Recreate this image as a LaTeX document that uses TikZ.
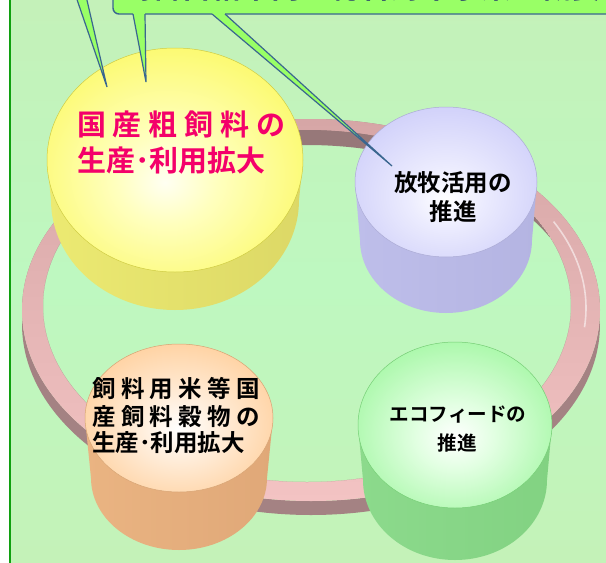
\documentclass[tikz,border=0pt]{standalone}
\usepackage{fontspec}
\newfontfamily\jp{Noto Sans CJK JP}[BoldFont={* Bold}]
\definecolor{bgA}{HTML}{C4F1B9}
\definecolor{bgB}{HTML}{BEF8C0}
\definecolor{bgC}{HTML}{C4F2B8}
\definecolor{frameg}{HTML}{10A010}
\definecolor{cfill}{HTML}{99FF66}
\definecolor{cline}{HTML}{3A6690}
\definecolor{navy}{HTML}{1C2C6C}
\definecolor{ringtopA}{HTML}{D6A6A6}
\definecolor{ringtopB}{HTML}{F3C3C3}
\definecolor{ringwall}{HTML}{A48283}
\definecolor{ypink}{HTML}{F4006A}
% yellow
\definecolor{yA}{HTML}{FFFFF2}\definecolor{yB}{HTML}{FFFFBE}\definecolor{yC}{HTML}{FCFA72}\definecolor{yD}{HTML}{F4F050}
\definecolor{ywL}{HTML}{ECEA72}\definecolor{ywM}{HTML}{A39C46}\definecolor{ywR}{HTML}{DCD866}
% lavender
\definecolor{lA}{HTML}{FFFFFF}\definecolor{lB}{HTML}{ECECFE}\definecolor{lC}{HTML}{D2D2FA}\definecolor{lD}{HTML}{C2C2F2}
\definecolor{lwL}{HTML}{BEBEEA}\definecolor{lwM}{HTML}{8A8AAE}\definecolor{lwR}{HTML}{B4B4E2}
% peach
\definecolor{pA}{HTML}{FFFFFF}\definecolor{pB}{HTML}{FFEEDC}\definecolor{pC}{HTML}{FFD2A2}\definecolor{pD}{HTML}{F4BA84}
\definecolor{pwL}{HTML}{EAB482}\definecolor{pwM}{HTML}{AE8052}\definecolor{pwR}{HTML}{E0A878}
% green
\definecolor{gA}{HTML}{FFFFFF}\definecolor{gB}{HTML}{E2FFE2}\definecolor{gC}{HTML}{AAF8AA}\definecolor{gD}{HTML}{86EA86}
\definecolor{gwL}{HTML}{8CDA8C}\definecolor{gwM}{HTML}{5C9C5C}\definecolor{gwR}{HTML}{82D282}
\pgfdeclareradialshading{yface}{\pgfpoint{-2bp}{-5bp}}{color(0bp)=(yA); color(10bp)=(yB); color(28bp)=(yC); color(44bp)=(yD); color(60bp)=(yD)}
\pgfdeclareradialshading{lface}{\pgfpoint{0bp}{-6bp}}{color(0bp)=(lA); color(10bp)=(lB); color(28bp)=(lC); color(44bp)=(lD); color(60bp)=(lD)}
\pgfdeclareradialshading{pface}{\pgfpoint{0bp}{-4bp}}{color(0bp)=(pA); color(10bp)=(pB); color(28bp)=(pC); color(44bp)=(pD); color(60bp)=(pD)}
\pgfdeclareradialshading{gface}{\pgfpoint{0bp}{-4bp}}{color(0bp)=(gA); color(10bp)=(gB); color(28bp)=(gC); color(44bp)=(gD); color(60bp)=(gD)}
\tikzset{
  label/.style={inner sep=0pt, text height=0.88em, text depth=0.12em},
  jpbig/.style={label, font=\jp\bfseries\fontsize{29}{29}\selectfont, text=ypink},
  jpmid/.style={label, font=\jp\bfseries\fontsize{23.5}{23.5}\selectfont, text=black},
  jpsm/.style={label, font=\jp\bfseries\fontsize{23.5}{23.5}\selectfont, text=black},
  jpgr/.style={label, font=\jp\bfseries\fontsize{19.6}{19.6}\selectfont, text=black},
  callout/.style={fill=cfill, draw=cline, line width=1.4pt, line join=round},
  tailfill/.style={fill=cfill},
  tailline/.style={draw=cline, line width=1.2pt, line join=miter},
}
\begin{document}
\begin{tikzpicture}[x=1pt,y=-1pt]
\useasboundingbox (0,0) rectangle (606,563);
\clip (0,0) rectangle (606,563);
% background
\fill[white] (0,0) rectangle (606,563);
\shade[top color=bgA, bottom color=bgC, middle color=bgB] (10,0) rectangle (606,563);
\draw[frameg, line width=2pt] (10,-5) -- (10,570);

% ring: outer wall, top face, inner wall
\fill[ringwall, even odd rule] (311,324) ellipse [x radius=289, y radius=191] (311,310) ellipse [x radius=289, y radius=191];
\shade[top color=ringtopA, bottom color=ringtopB, even odd rule] (311,310) ellipse [x radius=289, y radius=191] (307,306) ellipse [x radius=264, y radius=176];
\begin{scope}
  \clip (307,306) ellipse [x radius=264, y radius=176];
  \fill[ringwall!92!black, even odd rule] (307,306) ellipse [x radius=264, y radius=176] (307,321) ellipse [x radius=276, y radius=176];
\end{scope}
\draw[white, opacity=.55, line width=1.6pt] (309,308) ++(-28:277 and 184) arc [start angle=-28, end angle=6, x radius=277, y radius=184];

% yellow cylinder
\shade[left color=ywL, middle color=ywM, right color=ywR] (47,160) -- (51,200) arc [start angle=180, end angle=0, x radius=124, y radius=110] -- (303,160) -- cycle;
\shade[shading=yface, draw=yD!85!black, line width=.5pt] (175,160) ellipse [x radius=128, y radius=112];
% lavender cylinder
\shade[left color=lwL, middle color=lwM, right color=lwR] (355,182) -- (360,240) arc [start angle=180, end angle=0, x radius=86, y radius=73] -- (537,182) -- cycle;
\shade[shading=lface, draw=lD!88!black, line width=.5pt] (446,182) ellipse [x radius=91, y radius=75];
% peach cylinder
\shade[left color=pwL, middle color=pwM, right color=pwR] (85,418) -- (91,478) arc [start angle=180, end angle=0, x radius=88, y radius=72] -- (273,418) -- cycle;
\shade[shading=pface, draw=pD!88!black, line width=.5pt] (179,418) ellipse [x radius=94, y radius=74];
% green cylinder
\shade[left color=gwL, middle color=gwM, right color=gwR] (358,425) -- (363,480) arc [start angle=180, end angle=0, x radius=92, y radius=80] -- (552,425) -- cycle;
\shade[shading=gface, draw=gD!88!black, line width=.5pt] (455,425) ellipse [x radius=97, y radius=83];

% texts
\node[jpbig, anchor=west] (y1) at (77,132) {\hbox to 208pt{国\hfil 産\hfil 粗\hfil 飼\hfil 料\hfil の}};
\node[jpbig, anchor=west] (y2) at (77,168) {生産･利用拡大};
\node[jpmid] (l1) at (453,188) {放牧活用の};
\node[jpmid] (l2) at (453,217) {推進};
\node[jpsm, anchor=west] (p1) at (92,394) {\hbox to 168pt{飼\hfil 料\hfil 用\hfil 米\hfil 等\hfil 国}};
\node[jpsm, anchor=west] (p2) at (92,422) {\hbox to 168pt{産\hfil 飼\hfil 料\hfil 穀\hfil 物\hfil の}};
\node[jpsm, anchor=west] (p3) at (92,448) {生産･利用拡大};
\node[jpgr] (g1) at (458,418) {エコフィードの};
\node[jpgr] (g2) at (457,447) {推進};

% callout box (cut by the top edge)
\draw[callout] [rounded corners=6pt] (113,-40) -- (113,14) -- (620,14) -- (620,-40);
\node[anchor=base west, inner sep=0pt, font=\jp\bfseries\fontsize{30}{30}\selectfont, text=navy] (title) at (121,-1.8) {飼料自給率向上総合対策事業の概要};
% tails
\coordinate (tipA) at (107,87);
\coordinate (tipB) at (146,82);
\coordinate (tipC) at (392,166);
\fill[tailfill] (72,-15) -- (tipA) -- (83.5,-15) -- cycle;
\draw[tailline] (72,-15) -- (tipA) -- (83.5,-15);
\fill[tailfill] (133,14) -- (tipB) -- (145,14) -- (145,11) -- (133,11) -- cycle;
\draw[tailline] (133,14) -- (tipB) -- (145,14);
\fill[tailfill] (212,14) -- (tipC) -- (225,14) -- (225,11) -- (212,11) -- cycle;
\draw[tailline] (212,14) -- (tipC) -- (225,14);
\end{tikzpicture}
\end{document}
